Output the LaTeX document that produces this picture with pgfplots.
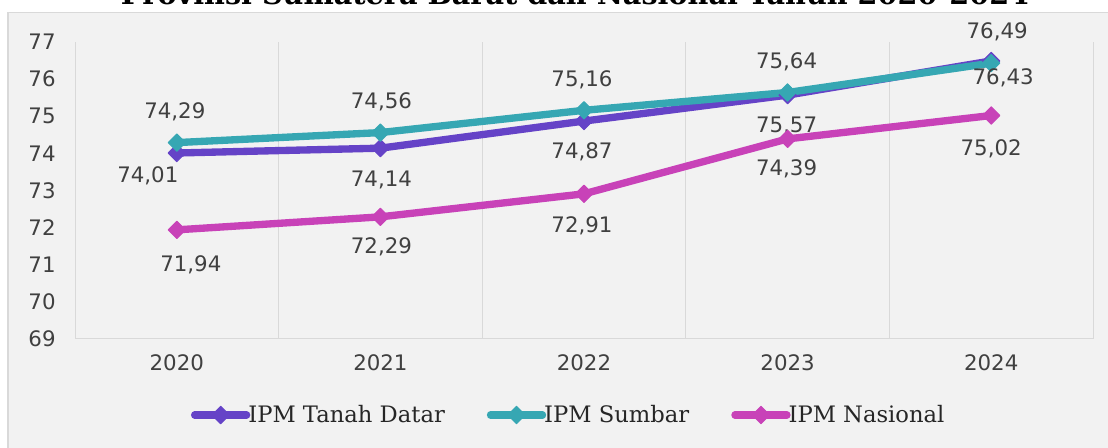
\documentclass[border=0pt]{standalone}
\usepackage{fontspec}
\usepackage{pgfplots}
\pgfplotsset{compat=1.18}
\usepackage{pgfplotstable}
\setmainfont{DejaVu Serif}
\newfontfamily\vsans{DejaVu Sans}
\newfontfamily\slab{DejaVu Serif}
\definecolor{cTD}{HTML}{6543C7}
\definecolor{cSB}{HTML}{36A7B3}
\definecolor{cNS}{HTML}{C842B8}
\definecolor{gridc}{HTML}{D9D9D9}
\definecolor{bgc}{HTML}{F2F2F2}
\definecolor{txtc}{HTML}{404040}

\pgfplotstableread{
x y lab dx dy
0 74.01 74,01 -29 -23
1 74.14 74,14 1 -32
2 74.87 74,87 -2 -31
3 75.57 75,57 -1 -31
4 76.49 76,49 6 29
}\tdtab
\pgfplotstableread{
x y lab dx dy
0 74.29 74,29 -2 31
1 74.56 74,56 1 31
2 75.16 75,16 -2 30
3 75.64 75,64 -1 31
4 76.43 76,43 12 -15
}\sbtab
\pgfplotstableread{
x y lab dx dy
0 71.94 71,94 14 -35
1 72.29 72,29 1 -30
2 72.91 72,91 -2 -32
3 74.39 74,39 -1 -30
4 75.02 75,02 0 -33
}\nstab

\begin{document}
\begin{tikzpicture}[x=0.75pt,y=0.75pt]
\useasboundingbox (0,0) rectangle (1108,448);
\fill[white] (0,0) rectangle (1108,448);
\draw[gridc, fill=bgc, line width=1pt] (8,-10) rectangle (1120,435.5);
\node[anchor=base, font=\slab\bfseries\fontsize{21.5}{21.5}\selectfont] at (575,443.5) {Provinsi Sumatera Barat dan Nasional Tahun 2020-2024};
\begin{axis}[
  at={(56.25pt,81.75pt)}, anchor=south west,
  scale only axis, width=763.5pt, height=222.75pt,
  xmin=-0.5, xmax=4.5, ymin=69, ymax=77,
  xtick={0,...,4}, xticklabels={2020,2021,2022,2023,2024},
  ytick={69,...,77},
  minor xtick={-0.5,0.5,1.5,2.5,3.5,4.5},
  xminorgrids,
  minor grid style={color=gridc, line width=0.75pt},
  major grid style={color=gridc, line width=0.75pt},
  extra y ticks={69}, extra y tick labels={},
  extra y tick style={grid=major},
  axis line style={draw=none},
  major tick length=0pt, minor tick length=0pt,
  /pgf/number format/assume math mode=true,
  ticklabel style={font=\vsans\fontsize{16}{16}\selectfont, text=txtc},
  xticklabel style={yshift=-8pt},
  yticklabel style={xshift=-11pt},
  clip=false,
  legend columns=3,
  legend style={at={(0.485,-0.256)}, anchor=center, draw=none, fill=none,
    font=\slab\fontsize{17}{17}\selectfont, text=black!85,
    nodes={inner sep=1.5pt},
    /tikz/every odd column/.append style={column sep=-3pt},
    /tikz/every even column/.append style={column sep=30pt}},
  legend image code/.code={\draw[#1, mark repeat=2, mark phase=2] plot coordinates {(0pt,0pt) (19.5pt,0pt) (39pt,0pt)};},
  every axis plot/.append style={line width=5.5pt, line cap=round, line join=round,
    mark=square*, mark size=4.6pt, mark options={solid, rotate=45, line width=0.75pt}},
  nodes near coords, point meta=explicit symbolic,
  visualization depends on={\thisrow{dx} \as \dx},
  visualization depends on={\thisrow{dy} \as \dy},
  nodes near coords style={anchor=center, font=\vsans\fontsize{16}{16}\selectfont, text=txtc,
    xshift={\dx*0.75pt}, yshift={\dy*0.75pt}},
]
\addplot[cTD] table[x=x, y=y, meta=lab] {\tdtab};
\addlegendentry{IPM Tanah Datar}
\addplot[cSB] table[x=x, y=y, meta=lab] {\sbtab};
\addlegendentry{IPM Sumbar}
\addplot[cNS] table[x=x, y=y, meta=lab] {\nstab};
\addlegendentry{IPM Nasional}
\end{axis}
\end{tikzpicture}
\end{document}
